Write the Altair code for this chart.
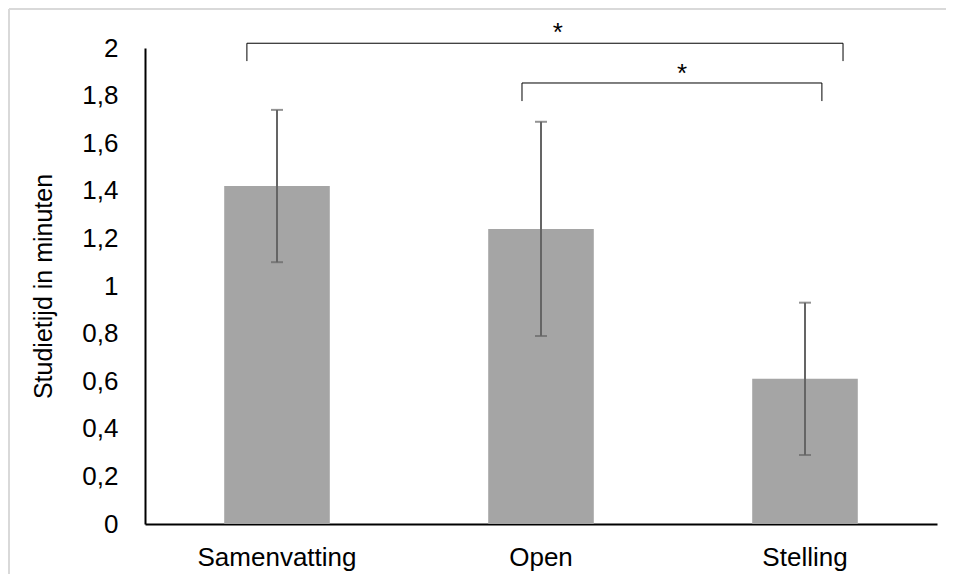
import altair as alt
import pandas as pd

# Data
categories = ["Samenvatting", "Open", "Stelling"]
means = [1.42, 1.24, 0.61]
errors = [0.32, 0.45, 0.32]

# Significance brackets (x in category-index units, 0..3 across the plot)
br_x1 = [0.386, 1.428]
br_x2 = [2.644, 2.564]
br_top = [2.02, 1.853]
br_bottom = [1.945, 1.777]
br_text_x = [1.564, 2.034]
br_text_y = [2.01, 1.835]
br_label = ["*", "*"]

FONT = "Liberation Sans"
FS = 26

bars_df = pd.DataFrame({
    "cat": categories,
    "mean": means,
    "lo": [m - e for m, e in zip(means, errors)],
    "hi": [m + e for m, e in zip(means, errors)],
})

br_df = pd.DataFrame({
    "x1": br_x1, "x2": br_x2, "top": br_top, "bottom": br_bottom,
    "tx": br_text_x, "ty": br_text_y, "label": br_label,
})

yscale = alt.Scale(domain=[0, 2])
xband = alt.X("cat:N", sort=categories,
              scale=alt.Scale(paddingInner=0.6, paddingOuter=0.3),
              axis=alt.Axis(title=None, labelFontSize=FS, labelFont=FONT,
                            labelColor="#000000", labelPadding=20, ticks=False,
                            domainColor="#000000", domainWidth=2, labelAngle=0))
yenc = alt.Y("mean:Q", scale=yscale,
             axis=alt.Axis(title="Studietijd in minuten", titleFontSize=25,
                           titleFont=FONT, titleFontWeight="normal",
                           titleColor="#000000", titlePadding=25,
                           labelFontSize=FS, labelFont=FONT, labelColor="#000000",
                           labelPadding=27, ticks=False, grid=False,
                           domainColor="#000000", domainWidth=2,
                           values=[0, 0.2, 0.4, 0.6, 0.8, 1, 1.2, 1.4, 1.6, 1.8, 2],
                           labelExpr="replace(format(datum.value, '.1~f'), '.', ',')"))

base = alt.Chart(bars_df)
bars = base.mark_bar(color="#A5A5A5").encode(x=xband, y=yenc)
err_rule = base.mark_rule(color="#656565", strokeWidth=2).encode(
    x=alt.X("cat:N", sort=categories),
    y=alt.Y("lo:Q", scale=yscale), y2="hi:Q")
cap_lo = base.mark_tick(color="#656565", thickness=2, size=12, orient="horizontal").encode(
    x=alt.X("cat:N", sort=categories), y=alt.Y("lo:Q", scale=yscale))
cap_hi = base.mark_tick(color="#656565", thickness=2, size=12, orient="horizontal").encode(
    x=alt.X("cat:N", sort=categories), y=alt.Y("hi:Q", scale=yscale))

main = alt.layer(bars, err_rule, cap_lo, cap_hi)

qx = alt.Scale(domain=[0, 3])
ann = alt.Chart(br_df)
h_line = ann.mark_rule(color="#000000", strokeWidth=1).encode(
    x=alt.X("x1:Q", scale=qx, axis=None), x2="x2:Q",
    y=alt.Y("top:Q", scale=yscale))
v_left = ann.mark_rule(color="#000000", strokeWidth=1).encode(
    x=alt.X("x1:Q", scale=qx, axis=None),
    y=alt.Y("top:Q", scale=yscale), y2="bottom:Q")
v_right = ann.mark_rule(color="#000000", strokeWidth=1).encode(
    x=alt.X("x2:Q", scale=qx, axis=None),
    y=alt.Y("top:Q", scale=yscale), y2="bottom:Q")
stars = ann.mark_text(font=FONT, fontSize=FS, color="#000000", baseline="bottom").encode(
    x=alt.X("tx:Q", scale=qx, axis=None),
    y=alt.Y("ty:Q", scale=yscale), text="label:N")
annotations = alt.layer(h_line, v_left, v_right, stars)

# Light chart-area frame (left and top edges visible in the reference)
frame_top = alt.Chart(pd.DataFrame({"a": [0]})).mark_rule(color="#D9D9D9", strokeWidth=2).encode(
    x=alt.value(-136), x2=alt.value(900), y=alt.value(-39))
frame_left = alt.Chart(pd.DataFrame({"a": [0]})).mark_rule(color="#D9D9D9", strokeWidth=2).encode(
    x=alt.value(-136), y=alt.value(-39), y2=alt.value(540))

chart = alt.layer(frame_top, frame_left, main, annotations).resolve_scale(
    x="independent"
).properties(
    width=792, height=476,
    autosize=alt.AutoSizeParams(type="none"),
    padding={"left": 137, "top": 40, "right": 9, "bottom": 50},
    background="#FFFFFF",
).configure_view(stroke=None)

chart.save("out.html", embed_options={"renderer": "svg", "actions": False})
